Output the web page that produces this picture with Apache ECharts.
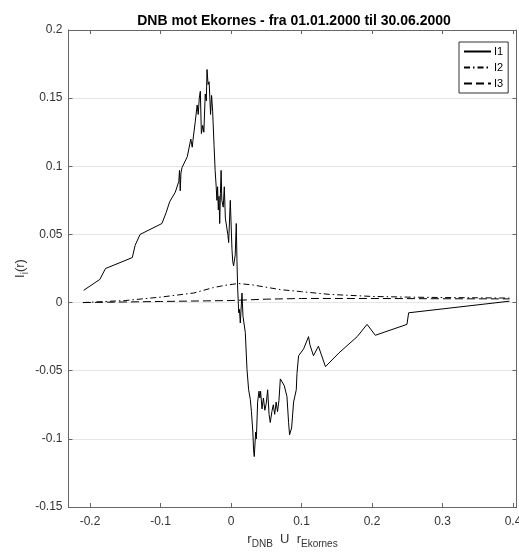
<!DOCTYPE html>
<html>
<head>
<meta charset="utf-8">
<script src="https://cdn.jsdelivr.net/npm/echarts@6/dist/echarts.min.js"></script>
<style>
  html, body { margin: 0; padding: 0; background: #fff; }
  #chart { width: 519px; height: 553px; }
</style>
</head>
<body>
<div id="chart"></div>
<script>
  // I1 - main curve
  var i1X = [-0.209, -0.186, -0.178, -0.140, -0.136, -0.129, -0.098, -0.092, -0.087, -0.079,
    -0.074, -0.073, -0.072, -0.071, -0.0695, -0.062, -0.057, -0.055, -0.054, -0.0506,
    -0.048, -0.0465, -0.045, -0.0435, -0.042, -0.040, -0.0385, -0.0365, -0.035, -0.034,
    -0.0325, -0.031, -0.030, -0.029, -0.0275, -0.026, -0.024, -0.0225, -0.021, -0.020,
    -0.019, -0.018, -0.017, -0.016, -0.015, -0.014, -0.013, -0.011, -0.0095, -0.008,
    -0.0057, -0.0045, -0.0033, -0.001, 0.0014, 0.0025, 0.0037, 0.006, 0.0075, 0.0085,
    0.0095, 0.011, 0.012, 0.0132, 0.0156, 0.017, 0.0203, 0.0227, 0.025, 0.0274,
    0.029, 0.031, 0.032, 0.033, 0.035, 0.036, 0.0378, 0.0397, 0.041, 0.042,
    0.044, 0.046, 0.048, 0.050, 0.052, 0.054, 0.0557, 0.058, 0.060, 0.062,
    0.064, 0.066, 0.068, 0.070, 0.0756, 0.0794, 0.0817, 0.0831, 0.086, 0.0888,
    0.0926, 0.0936, 0.0959, 0.103, 0.110, 0.112, 0.117, 0.124, 0.134, 0.153,
    0.179, 0.193, 0.2047, 0.2496, 0.252, 0.395]
  var i1Y = [0.009, 0.017, 0.025, 0.033, 0.042, 0.050, 0.058, 0.066, 0.074, 0.081,
    0.089, 0.097, 0.082, 0.095, 0.099, 0.107, 0.120, 0.114, 0.119, 0.133,
    0.145, 0.138, 0.150, 0.155, 0.124, 0.130, 0.125, 0.153, 0.148, 0.171,
    0.160, 0.162, 0.150, 0.138, 0.152, 0.140, 0.115, 0.097, 0.085, 0.075,
    0.085, 0.068, 0.078, 0.058, 0.080, 0.097, 0.075, 0.070, 0.085, 0.062,
    0.063, 0.050, 0.044, 0.075, 0.039, 0.030, 0.027, 0.035, 0.058, 0.030,
    0.010, -0.0075, -0.005, -0.015, 0.007, -0.010, -0.022, -0.049, -0.064, -0.071,
    -0.080, -0.095, -0.108, -0.113, -0.095, -0.100, -0.073, -0.065, -0.070, -0.065,
    -0.078, -0.070, -0.079, -0.074, -0.064, -0.082, -0.088, -0.080, -0.075, -0.082,
    -0.073, -0.080, -0.072, -0.056, -0.061, -0.069, -0.088, -0.097, -0.092, -0.073,
    -0.064, -0.052, -0.039, -0.034, -0.025, -0.031, -0.039, -0.032, -0.047, -0.037,
    -0.025, -0.016, -0.024, -0.016, -0.0075, 0.001]

  // I2 - dash-dot
  var i2X = [-0.21, -0.15, -0.1, -0.053, -0.025, -0.01, 0.01, 0.03, 0.07, 0.1, 0.14, 0.2, 0.25, 0.3, 0.35, 0.395]
  var i2Y = [0.0, 0.0015, 0.004, 0.007, 0.011, 0.0125, 0.014, 0.013, 0.0095, 0.008, 0.006, 0.0045, 0.004, 0.0037, 0.0035, 0.0033]

  // I3 - dashed
  var i3X = [-0.21, -0.1, 0.0, 0.05, 0.1, 0.2, 0.3, 0.395]
  var i3Y = [0.0, 0.0008, 0.0015, 0.0025, 0.003, 0.003, 0.0028, 0.0027]

  var xTicks = [-0.2, -0.1, 0, 0.1, 0.2, 0.3, 0.4]

  function pairs (xs, ys) {
    return xs.map(function (x, i) {
      return [x, ys[i]]
    })
  }

  function fmt (v) {
    return String(Math.round(v * 100) / 100)
  }

  var axisColor = '#666'
  var textColor = '#333'
  var font = 'Liberation Sans, Arial, sans-serif'

  var chart = echarts.init(document.getElementById('chart'))
  var option = {
    animation: false,
    title: {
      text: 'DNB mot Ekornes - fra 01.01.2000 til 30.06.2000',
      left: 289,
      textAlign: 'center',
      top: 9,
      textStyle: {
        fontFamily: font,
        fontSize: 14,
        fontWeight: 'bold',
        color: '#000'
      }
    },
    legend: {
      orient: 'vertical',
      left: 459,
      top: 42,
      padding: [4, 5, 4, 4],
      itemWidth: 27,
      itemHeight: 8,
      itemGap: 5,
      borderColor: '#333',
      borderWidth: 1,
      backgroundColor: '#fff',
      borderRadius: 0,
      itemStyle: { opacity: 0 },
      textStyle: {
        fontFamily: font,
        fontSize: 11,
        color: '#000',
        padding: [0, 0, 0, -2]
      },
      data: ['I1', 'I2', 'I3']
    },
    grid: {
      left: 68.5,
      right: 2.5,
      top: 30,
      bottom: 46,
      containLabel: false,
      outerBoundsMode: 'none'
    },
    xAxis: [{
      type: 'value',
      min: -0.2305,
      max: 0.405,
      name: '{a|r}{b|DNB}{a|  U  r}{b|Ekornes}',
      nameLocation: 'middle',
      nameGap: 19,
      nameTextStyle: {
        rich: {
          a: { fontFamily: font, fontSize: 13, color: textColor },
          b: { fontFamily: font, fontSize: 10, color: textColor, padding: [10, 0, 0, 0] }
        }
      },
      axisLine: { show: true, onZero: false, lineStyle: { color: axisColor, width: 1 } },
      axisTick: { show: true, inside: true, length: 4, customValues: xTicks, lineStyle: { color: axisColor } },
      axisLabel: {
        customValues: xTicks,
        formatter: fmt,
        margin: 9,
        fontFamily: font,
        fontSize: 12,
        color: textColor
      },
      splitLine: { show: false }
    }, {
      type: 'value',
      position: 'top',
      min: -0.2305,
      max: 0.405,
      axisLine: { show: true, onZero: false, lineStyle: { color: axisColor, width: 1 } },
      axisTick: { show: true, inside: true, length: 4, customValues: xTicks, lineStyle: { color: axisColor } },
      axisLabel: { show: false },
      splitLine: { show: false }
    }],
    yAxis: [{
      type: 'value',
      min: -0.15,
      max: 0.2,
      interval: 0.05,
      name: '{a|I}{b|i}{a|(r)}',
      nameLocation: 'middle',
      nameGap: 38,
      nameRotate: 90,
      nameMoveOverlap: false,
      nameTextStyle: {
        rich: {
          a: { fontFamily: font, fontSize: 13, color: textColor },
          b: { fontFamily: font, fontSize: 10, color: textColor, padding: [10, 0, 0, 0] }
        }
      },
      axisLine: { show: true, onZero: false, lineStyle: { color: axisColor, width: 1 } },
      axisTick: { show: true, inside: true, length: 4, lineStyle: { color: axisColor } },
      axisLabel: {
        formatter: fmt,
        margin: 6,
        fontFamily: font,
        fontSize: 12,
        color: textColor
      },
      splitLine: { show: true, lineStyle: { color: '#e6e6e6', width: 1 } }
    }, {
      type: 'value',
      position: 'right',
      min: -0.15,
      max: 0.2,
      interval: 0.05,
      axisLine: { show: true, onZero: false, lineStyle: { color: axisColor, width: 1 } },
      axisTick: { show: true, inside: true, length: 4, lineStyle: { color: axisColor } },
      axisLabel: { show: false },
      splitLine: { show: false }
    }],
    series: [{
      name: 'I1',
      type: 'line',
      symbol: 'none',
      data: pairs(i1X, i1Y),
      lineStyle: { color: '#000', width: 1 },
      itemStyle: { color: '#000' }
    }, {
      name: 'I2',
      type: 'line',
      symbol: 'none',
      data: pairs(i2X, i2Y),
      lineStyle: { color: '#000', width: 1, type: [6, 3, 1.5, 3] },
      itemStyle: { color: '#000' }
    }, {
      name: 'I3',
      type: 'line',
      symbol: 'none',
      data: pairs(i3X, i3Y),
      lineStyle: { color: '#000', width: 1, type: [8, 4] },
      itemStyle: { color: '#000' }
    }]
  }
  chart.setOption(option)
</script>
</body>
</html>
